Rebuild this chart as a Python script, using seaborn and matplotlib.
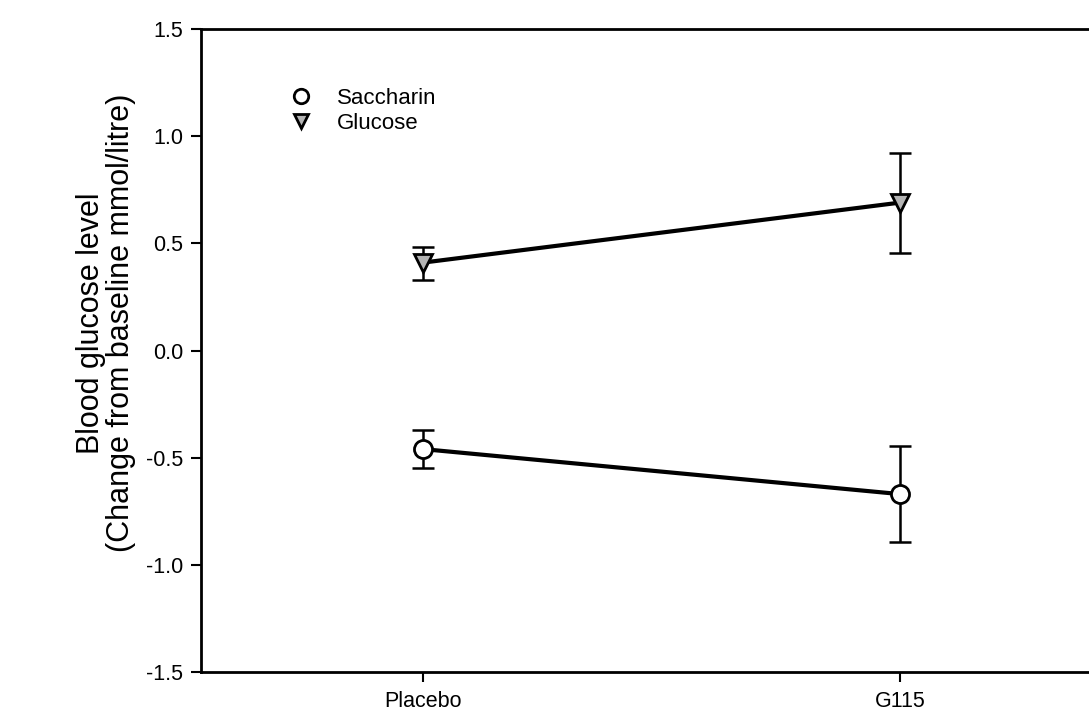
import numpy as np
import pandas as pd
import matplotlib.pyplot as plt
import seaborn as sns

groups = ["Placebo", "G115"]
saccharin_mean = [-0.46, -0.67]
saccharin_err_lo = [0.09, 0.225]
saccharin_err_hi = [0.09, 0.225]
glucose_mean = [0.41, 0.69]
glucose_err_lo = [0.08, 0.235]
glucose_err_hi = [0.075, 0.23]

sns.set_style("ticks")
plt.rcParams['font.family'] = ['Liberation Sans', 'DejaVu Sans']

x = np.arange(len(groups))
df = pd.DataFrame({
    "x": np.concatenate([x, x]),
    "y": saccharin_mean + glucose_mean,
    "drink": ["Saccharin"] * len(groups) + ["Glucose"] * len(groups),
})

fig = plt.figure(figsize=(10.89, 7.25), dpi=100)
ax = fig.add_axes([0.1846, 0.0731, 0.8154, 0.8869])

sns.lineplot(data=df, x="x", y="y", hue="drink", palette=["black", "black"],
             linewidth=3, legend=False, ax=ax, zorder=2)

ax.errorbar(x, saccharin_mean, yerr=[saccharin_err_lo, saccharin_err_hi], fmt="none",
            ecolor="black", elinewidth=1.8, capsize=8, capthick=1.8, zorder=1)
ax.errorbar(x, glucose_mean, yerr=[glucose_err_lo, glucose_err_hi], fmt="none",
            ecolor="black", elinewidth=1.8, capsize=8, capthick=1.8, zorder=1)

ax.plot(x, saccharin_mean, "o", ms=13, mfc="white", mec="black", mew=2,
        ls="none", label="Saccharin", zorder=3)
ax.plot(x, glucose_mean, "v", ms=13, mfc="#b4b4b4", mec="black", mew=2,
        ls="none", label="Glucose", zorder=3)

ax.set_xlim(-0.465, 1.396)
ax.set_ylim(-1.5, 1.5)
ax.set_yticks([-1.5, -1.0, -0.5, 0.0, 0.5, 1.0, 1.5])
ax.set_yticklabels(["-1.5", "-1.0", "-0.5", "0.0", "0.5", "1.0", "1.5"])
ax.set_xticks(x)
ax.set_xticklabels(groups)
ax.tick_params(axis="both", direction="out", length=7, width=1.5, labelsize=15.5,
               colors="black", pad=6)
ax.tick_params(axis="x", pad=7)

for s in ["left", "bottom", "top"]:
    ax.spines[s].set_linewidth(2)
    ax.spines[s].set_color("black")
ax.spines["right"].set_visible(False)

ax.set_xlabel("")
ax.set_ylabel("Blood glucose level\n(Change from baseline mmol/litre)", fontsize=22,
              linespacing=1.0, color="black")
ax.yaxis.set_label_coords(-0.073, 0.543)

leg = ax.legend(loc="upper left", bbox_to_anchor=(0.075, 0.94), frameon=False,
                fontsize=16, handletextpad=1.0, labelspacing=0.2, markerscale=0.8,
                handlelength=1.2, labelcolor="black")

fig.savefig("out.png", dpi=100)
